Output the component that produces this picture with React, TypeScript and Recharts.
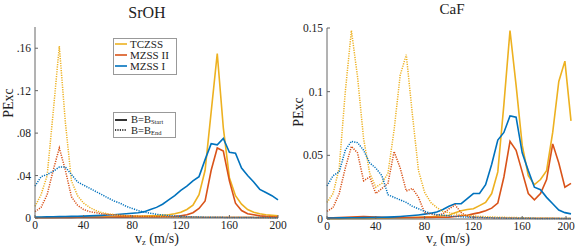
import React from "react";
import { LineChart, Line, XAxis, YAxis, Customized } from "recharts";

// v_z in m/s
const velocity = [
  0, 5, 10, 15, 20, 25, 30, 35, 40, 45, 50, 55, 60, 65, 70, 75, 80, 85, 90, 95,
  100, 105, 110, 115, 120, 125, 130, 135, 140, 145, 150, 155, 160, 165, 170, 175, 180, 185, 190, 195, 200,
];

// SrOH, B = B_Start
const srohTczssStart = [
  0.0005, 0.0005, 0.0006, 0.0006, 0.0007, 0.0007, 0.0008, 0.0008, 0.0009, 0.0009, 0.001, 0.001, 0.0011, 0.0012, 0.0013, 0.0014, 0.0015, 0.0016, 0.0018, 0.002,
  0.0022, 0.0026, 0.003, 0.004, 0.0055, 0.008, 0.012, 0.022, 0.045, 0.1, 0.155, 0.085, 0.038, 0.021, 0.013, 0.008, 0.0055, 0.004, 0.003, 0.0025, 0.002,
];
const srohMzss2Start = [
  0.0003, 0.0003, 0.0003, 0.0003, 0.0004, 0.0004, 0.0004, 0.0005, 0.0005, 0.0005, 0.0006, 0.0006, 0.0007, 0.0007, 0.0008, 0.0008, 0.0009, 0.0009, 0.001, 0.001,
  0.0011, 0.0012, 0.0013, 0.0015, 0.002, 0.003, 0.005, 0.009, 0.016, 0.045, 0.066, 0.063, 0.035, 0.014, 0.007, 0.004, 0.003, 0.002, 0.0015, 0.0012, 0.001,
];
const srohMzss1Start = [
  0.001, 0.001, 0.0011, 0.0012, 0.0013, 0.0014, 0.0015, 0.0016, 0.0018, 0.002, 0.0022, 0.0025, 0.0028, 0.003, 0.0035, 0.004, 0.0045, 0.005, 0.006, 0.008,
  0.01, 0.013, 0.017, 0.021, 0.026, 0.03, 0.035, 0.039, 0.055, 0.07, 0.069, 0.075, 0.062, 0.061, 0.047, 0.04, 0.034, 0.027, 0.024, 0.021, 0.017,
];

// SrOH, B = B_End
const srohTczssEnd = [
  0.011, 0.022, 0.04, 0.1, 0.162, 0.09, 0.035, 0.021, 0.014, 0.01, 0.007, 0.005, 0.004, 0.0032, 0.0026, 0.0022, 0.0019, 0.0017, 0.0015, 0.0014,
  0.0013, 0.0012, 0.0011, 0.001, 0.001, 0.0009, 0.0009, 0.0008, 0.0008, 0.0008, 0.0007, 0.0007, 0.0007, 0.0006, 0.0006, 0.0006, 0.0006, 0.0005, 0.0005, 0.0005, 0.0005,
];
const srohMzss2End = [
  0.006, 0.01, 0.022, 0.045, 0.066, 0.045, 0.02, 0.012, 0.008, 0.006, 0.005, 0.004, 0.0033, 0.0028, 0.0024, 0.0022, 0.002, 0.0018, 0.0016, 0.0014,
  0.0013, 0.0012, 0.0011, 0.001, 0.001, 0.0009, 0.0009, 0.0008, 0.0008, 0.0008, 0.0007, 0.0007, 0.0007, 0.0006, 0.0006, 0.0006, 0.0006, 0.0005, 0.0005, 0.0005, 0.0005,
];
const srohMzss1End = [
  0.03, 0.039, 0.041, 0.044, 0.048, 0.048, 0.041, 0.034, 0.031, 0.028, 0.025, 0.022, 0.019, 0.016, 0.014, 0.011, 0.009, 0.007, 0.0055, 0.0045,
  0.0035, 0.0028, 0.0022, 0.0018, 0.0015, 0.0012, 0.001, 0.0009, 0.0008, 0.0007, 0.0006, 0.0006, 0.0005, 0.0005, 0.0005, 0.0004, 0.0004, 0.0004, 0.0004, 0.0003, 0.0003,
];

// CaF, B = B_Start
const cafTczssStart = [
  0.0003, 0.0003, 0.0003, 0.0004, 0.0004, 0.0004, 0.0005, 0.0005, 0.0006, 0.0006, 0.0007, 0.0008, 0.0009, 0.001, 0.0011, 0.0013, 0.0015, 0.0018, 0.0021, 0.0025,
  0.003, 0.005, 0.0065, 0.0075, 0.008, 0.0105, 0.013, 0.02, 0.037, 0.09, 0.148, 0.105, 0.058, 0.034, 0.027, 0.031, 0.038, 0.068, 0.108, 0.124, 0.077,
];
const cafMzss2Start = [
  0.001, 0.001, 0.0012, 0.0014, 0.0016, 0.0018, 0.002, 0.0018, 0.0015, 0.0013, 0.0012, 0.0012, 0.0012, 0.0012, 0.0012, 0.0012, 0.0013, 0.0013, 0.0014, 0.0014,
  0.0015, 0.002, 0.0025, 0.003, 0.004, 0.005, 0.0065, 0.0085, 0.0125, 0.033, 0.061, 0.054, 0.037, 0.02, 0.015, 0.02, 0.031, 0.059, 0.044, 0.025, 0.028,
];
const cafMzss1Start = [
  0.0008, 0.0008, 0.0009, 0.0009, 0.001, 0.001, 0.0011, 0.0012, 0.0013, 0.0014, 0.0015, 0.0017, 0.002, 0.0023, 0.0027, 0.0032, 0.0038, 0.0045, 0.0055, 0.0075,
  0.01, 0.012, 0.012, 0.016, 0.02, 0.02, 0.027, 0.043, 0.062, 0.068, 0.081, 0.08, 0.052, 0.038, 0.025, 0.023, 0.017, 0.012, 0.007, 0.005, 0.004,
];

// CaF, B = B_End
const cafTczssEnd = [
  0.013, 0.02, 0.04, 0.1, 0.148, 0.112, 0.063, 0.036, 0.025, 0.028, 0.036, 0.07, 0.113, 0.129, 0.082, 0.038, 0.021, 0.013, 0.009, 0.006,
  0.005, 0.004, 0.0033, 0.0028, 0.0024, 0.002, 0.0018, 0.0016, 0.0014, 0.0013, 0.0012, 0.0011, 0.001, 0.0009, 0.0008, 0.0008, 0.0007, 0.0007, 0.0006, 0.0006, 0.0005,
];
const cafMzss2End = [
  0.006, 0.009, 0.02, 0.04, 0.057, 0.052, 0.03, 0.033, 0.02, 0.024, 0.028, 0.053, 0.04, 0.022, 0.024, 0.017, 0.005, 0.004, 0.003, 0.004,
  0.008, 0.011, 0.005, 0.002, 0.0015, 0.0012, 0.001, 0.0009, 0.0008, 0.0008, 0.0007, 0.0007, 0.0006, 0.0006, 0.0006, 0.0005, 0.0005, 0.0005, 0.0005, 0.0004, 0.0004,
];
const cafMzss1End = [
  0.026, 0.034, 0.037, 0.054, 0.061, 0.06, 0.054, 0.044, 0.04, 0.034, 0.019, 0.017, 0.015, 0.013, 0.01, 0.008, 0.006, 0.0045, 0.0035, 0.003,
  0.0025, 0.002, 0.0018, 0.0015, 0.0013, 0.0012, 0.001, 0.0009, 0.0008, 0.0007, 0.0006, 0.0006, 0.0005, 0.0005, 0.0005, 0.0004, 0.0004, 0.0004, 0.0003, 0.0003, 0.0003,
];

const seriesNames = ["TCZSS", "MZSS II", "MZSS I"];
const seriesColors = ["#EDB120", "#D95319", "#0072BD"];
const xTicks = [0, 40, 80, 120, 160, 200];
const srohYTicks = [0, 0.04, 0.08, 0.12, 0.16];
const cafYTicks = [0, 0.05, 0.1, 0.15];

const srohData = velocity.map((v, i) => ({
  v,
  s0: srohTczssStart[i], s1: srohMzss2Start[i], s2: srohMzss1Start[i],
  e0: srohTczssEnd[i], e1: srohMzss2End[i], e2: srohMzss1End[i],
}));
const cafData = velocity.map((v, i) => ({
  v,
  s0: cafTczssStart[i], s1: cafMzss2Start[i], s2: cafMzss1Start[i],
  e0: cafTczssEnd[i], e1: cafMzss2End[i], e2: cafMzss1End[i],
}));

const FONT = "'Liberation Serif', 'Times New Roman', serif";
const AXIS = "#666";
const TXT = "#222";

const XTick = ({ x, y, payload }: any) => (
  <g>
    <line x1={x} y1={y} x2={x} y2={y - 3} stroke={AXIS} />
    <text x={x} y={y + 10.5} textAnchor="middle" fontSize={11.5} fontFamily={FONT} fill={TXT}>
      {payload.value}
    </text>
  </g>
);

const makeYTick = (fmt: (v: number) => string) => ({ x, y, payload }: any) => (
  <g>
    <line x1={x} y1={y} x2={x + 3} y2={y} stroke={AXIS} />
    <text x={x - 4} y={y} dy="0.35em" textAnchor="end" fontSize={11.5} fontFamily={FONT} fill={TXT}>
      {fmt(payload.value)}
    </text>
  </g>
);

const srohFmt = (v: number) => (v === 0 ? "0" : String(v).replace(/^0/, ""));
const cafFmt = (v: number) => String(v);

const XLabel = ({ cx, base }: { cx: number; base: number }) => (
  <text x={cx} y={base} textAnchor="middle" fontSize={14} fontFamily={FONT} fill={TXT}>
    v<tspan dy={2.5} fontSize={8.5}>z</tspan>
    <tspan dy={-2.5}> (m/s)</tspan>
  </text>
);

const YLabel = ({ x, y }: { x: number; y: number }) => (
  <text x={x} y={y} transform={`rotate(-90 ${x} ${y})`} textAnchor="middle" fontSize={14} fontFamily={FONT} fill={TXT}>
    PExc
  </text>
);

const SrohOverlay = () => (
  <g>
    <text x={147} y={18} textAnchor="middle" fontSize={16} fontFamily={FONT} fill={TXT}>SrOH</text>
    <YLabel x={13} y={103} />
    <XLabel cx={157} base={242.5} />
    {/* series legend */}
    <rect x={113.5} y={38.5} width={63} height={36} fill="#fff" stroke="#999" />
    {seriesNames.map((n, i) => (
      <g key={n}>
        <line x1={115} x2={127} y1={44 + i * 11} y2={44 + i * 11} stroke={seriesColors[i]} strokeWidth={1.6} />
        <text x={130} y={47.5 + i * 11} fontSize={11} fontFamily={FONT} fill={TXT}>{n}</text>
      </g>
    ))}
    {/* line style legend */}
    <rect x={113.5} y={112.5} width={62} height={25} fill="#fff" stroke="#999" />
    <line x1={115} x2={127} y1={120} y2={120} stroke="#000" strokeWidth={1.6} />
    <text x={131} y={123} fontSize={10.5} fontFamily={FONT} fill={TXT}>
      B=B<tspan dy={1} fontSize={6.5}>Start</tspan>
    </text>
    <line x1={115} x2={127} y1={130} y2={130} stroke="#000" strokeWidth={1.5} strokeDasharray="1.2 1.2" />
    <text x={131} y={133.5} fontSize={10.5} fontFamily={FONT} fill={TXT}>
      B=B<tspan dy={1} fontSize={6.5}>End</tspan>
    </text>
  </g>
);

const CafOverlay = () => (
  <g>
    <text x={162} y={14} textAnchor="middle" fontSize={15} fontFamily={FONT} fill={TXT}>CaF</text>
    <YLabel x={13} y={112} />
    <XLabel cx={158} base={243} />
  </g>
);

const renderLines = () => [
  ...seriesColors.map((c, i) => (
    <Line key={`s${i}`} dataKey={`s${i}`} name={seriesNames[i]} type="linear" stroke={c} strokeWidth={1.6} dot={false} isAnimationActive={false} />
  )),
  ...seriesColors.map((c, i) => (
    <Line key={`e${i}`} dataKey={`e${i}`} name={`${seriesNames[i]} end`} type="linear" stroke={c} strokeWidth={1.5} strokeDasharray="1.2 1.2" dot={false} isAnimationActive={false} />
  )),
];

export default function App() {
  return (
    <div style={{ position: "absolute", left: 0, top: 0, width: 578, height: 247, background: "#fff" }}>
      <div style={{ position: "absolute", left: 0, top: 0 }}>
        <LineChart width={290} height={247} data={srohData} margin={{ top: 27, right: 12, bottom: 0, left: 0 }}>
          <XAxis dataKey="v" type="number" domain={[0, 200]} ticks={xTicks} height={29} axisLine={{ stroke: AXIS }} tickLine={false} tickSize={0} tickMargin={0} tick={<XTick />} />
          <YAxis type="number" domain={[0, 0.18]} ticks={srohYTicks} width={35} axisLine={{ stroke: AXIS }} tickLine={false} tickSize={0} tickMargin={0} tick={makeYTick(srohFmt)} />
          {renderLines()}
          <Customized component={SrohOverlay} />
        </LineChart>
      </div>
      <div style={{ position: "absolute", left: 290, top: 0 }}>
        <LineChart width={288} height={247} data={cafData} margin={{ top: 28, right: 7, bottom: 0, left: 0 }}>
          <XAxis dataKey="v" type="number" domain={[0, 200]} ticks={xTicks} height={28} axisLine={{ stroke: AXIS }} tickLine={false} tickSize={0} tickMargin={0} tick={<XTick />} />
          <YAxis type="number" domain={[0, 0.15]} ticks={cafYTicks} width={37} axisLine={{ stroke: AXIS }} tickLine={false} tickSize={0} tickMargin={0} tick={makeYTick(cafFmt)} />
          {renderLines()}
          <Customized component={CafOverlay} />
        </LineChart>
      </div>
    </div>
  );
}
